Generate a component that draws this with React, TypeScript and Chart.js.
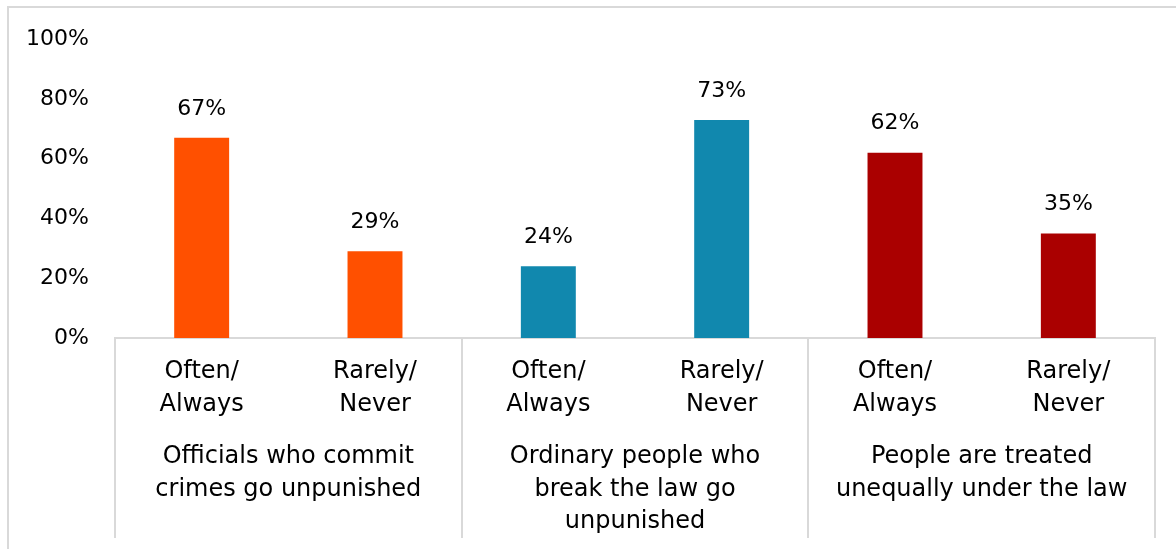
import React, { useEffect, useRef } from "react";
import { Chart, registerables } from "chart.js";

Chart.register(...registerables);

const categories: string[][] = [
  ["Often/", "Always"],
  ["Rarely/", "Never"],
  ["Often/", "Always"],
  ["Rarely/", "Never"],
  ["Often/", "Always"],
  ["Rarely/", "Never"],
];
const values: number[] = [67, 29, 24, 73, 62, 35];
const barColors: string[] = ["#FF5000", "#FF5000", "#1188AE", "#1188AE", "#AA0000", "#AA0000"];
const groupLabels: string[][] = [
  ["Officials who commit", "crimes go unpunished"],
  ["Ordinary people who", "break the law go", "unpunished"],
  ["People are treated", "unequally under the law"],
];
const groupSize = 2;
const yTicks: number[] = [0, 20, 40, 60, 80, 100];

const FONT = "'DejaVu Sans', sans-serif";
const GRID = "#d9d9d9";

const overlayPlugin = {
  id: "overlay",
  afterDraw(chart: any) {
    const ctx = chart.ctx;
    const xs = chart.scales.x;
    const area = chart.chartArea;
    const n = categories.length;
    const cw = (xs.right - xs.left) / n;
    const bottom = 538;
    ctx.save();
    ctx.strokeStyle = GRID;
    ctx.lineWidth = 2;
    for (let g = 0; g <= groupLabels.length; g++) {
      const idx = g * groupSize;
      const x = idx < n ? xs.getPixelForValue(idx) - cw / 2 : xs.getPixelForValue(n - 1) + cw / 2;
      ctx.beginPath();
      ctx.moveTo(Math.round(x), area.bottom);
      ctx.lineTo(Math.round(x), bottom);
      ctx.stroke();
    }
    ctx.fillStyle = "#000";
    ctx.font = `24px ${FONT}`;
    ctx.textAlign = "center";
    ctx.textBaseline = "middle";
    groupLabels.forEach((lines, g) => {
      const a = xs.getPixelForValue(g * groupSize);
      const b = xs.getPixelForValue(g * groupSize + groupSize - 1);
      const cx = (a + b) / 2;
      lines.forEach((ln, i) => ctx.fillText(ln, cx, 457 + i * 32.5));
    });
    ctx.font = `22px ${FONT}`;
    const meta = chart.getDatasetMeta(0);
    meta.data.forEach((bar: any, i: number) => {
      ctx.fillText(values[i] + "%", bar.x, bar.y - 29);
    });
    ctx.restore();
  },
};

export default function App() {
  const ref = useRef<HTMLCanvasElement>(null);
  useEffect(() => {
    if (!ref.current) return;
    const chart = new Chart(ref.current, {
      type: "bar",
      data: {
        labels: categories,
        datasets: [
          {
            data: values,
            backgroundColor: barColors,
            categoryPercentage: 1,
            barPercentage: 0.317,
          },
        ],
      },
      options: {
        animation: false,
        responsive: false,
        maintainAspectRatio: false,
        layout: { padding: { top: 38, right: 21, left: 0, bottom: 0 } },
        plugins: { legend: { display: false }, tooltip: { enabled: false } },
        scales: {
          y: {
            min: 0,
            max: 100,
            afterBuildTicks: (s: any) => {
              s.ticks = yTicks.map((v) => ({ value: v }));
            },
            afterFit: (s: any) => {
              s.width = 115;
            },
            grid: { display: false, drawTicks: false },
            border: { display: false },
            ticks: {
              callback: (v: any) => v + "%",
              color: "#000",
              font: { family: FONT, size: 22 },
              padding: 26,
            },
          },
          x: {
            afterFit: (s: any) => {
              s.height = 549 - 338;
            },
            grid: { display: false, drawTicks: false },
            border: { display: true, color: GRID, width: 2 },
            ticks: {
              color: "#000",
              font: { family: FONT, size: 24, lineHeight: 1.375 },
              padding: 17,
              maxRotation: 0,
              autoSkip: false,
            },
          },
        },
      },
      plugins: [overlayPlugin],
    });
    return () => chart.destroy();
  }, []);
  return (
    <div style={{ position: "fixed", left: 0, top: 0, width: 1176, height: 549, overflow: "hidden", background: "#fff" }}>
      <div
        style={{
          position: "absolute",
          left: 7,
          top: 6,
          width: 1300,
          height: 700,
          borderLeft: `2px solid ${GRID}`,
          borderTop: `2px solid ${GRID}`,
        }}
      />
      <canvas ref={ref} width={1176} height={549} style={{ position: "absolute", left: 0, top: 0 }} />
    </div>
  );
}
